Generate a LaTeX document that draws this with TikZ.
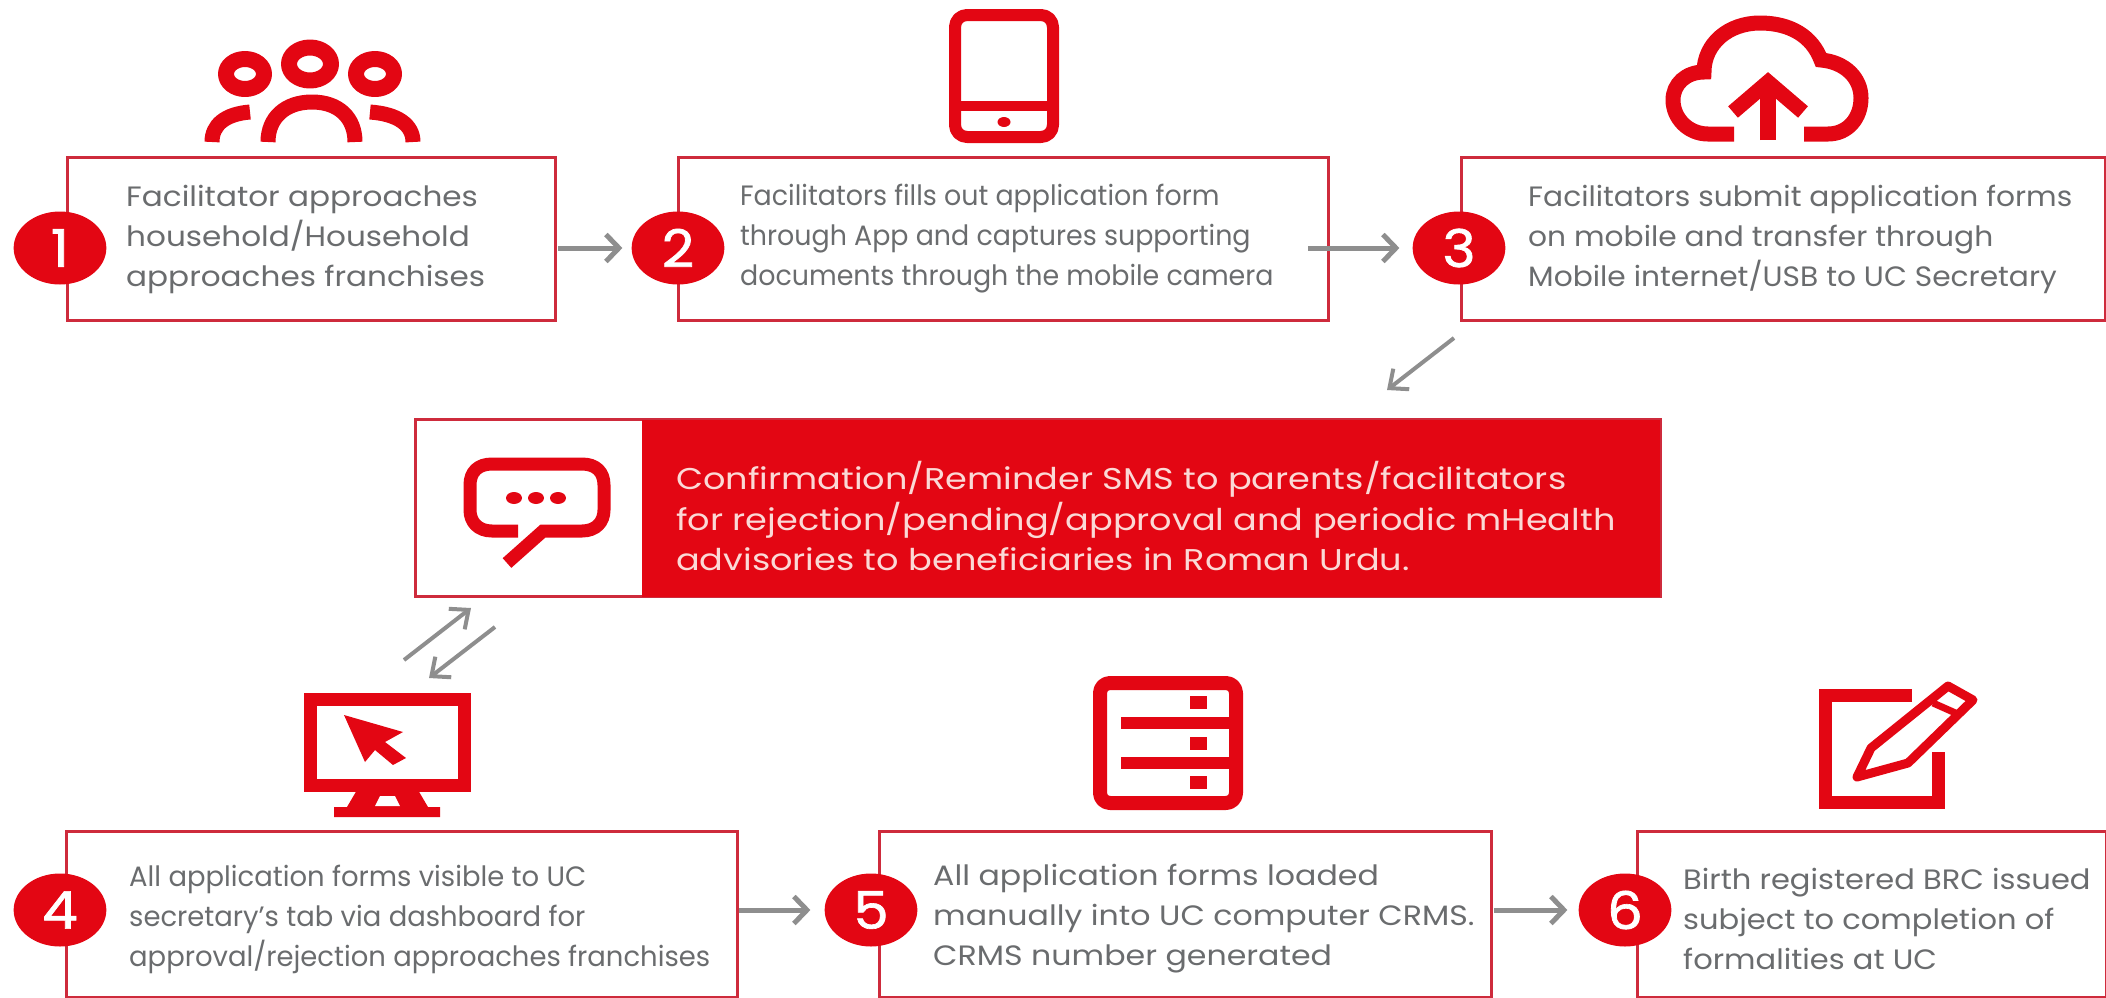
\documentclass[tikz,border=0pt]{standalone}
\usepackage{fontspec}
\setmainfont{Poppins}
\newfontfamily\numfont[FakeBold=1.2,FakeStretch=.85]{Poppins}
\usetikzlibrary{arrows.meta}
\definecolor{brandred}{HTML}{E30613}
\definecolor{boxred}{HTML}{CE2B3C}
\definecolor{flowgrey}{HTML}{8E8E8E}
\definecolor{bodygrey}{HTML}{6A6C6E}
\definecolor{smspink}{HTML}{FBD9D6}
\tikzset{
  stepbox/.style={rectangle,draw=boxred,line width=3pt,inner sep=0pt,outer sep=0pt},
  numdot/.style={circle,fill=brandred,text=white,minimum size=73pt,inner sep=0pt,xscale=1.27,
    font=\numfont\fontsize{52}{52}\selectfont},
  bodytext/.style={anchor=west,align=left,text=bodygrey,inner sep=0pt,
    font=\fontsize{28}{40}\selectfont},
  smstext/.style={anchor=west,align=left,text=smspink,inner sep=0pt,
    font=\fontsize{30}{40.5}\selectfont},
  flow/.style={draw=flowgrey,line width=5pt,-{Straight Barb[length=13pt,width=27pt,line width=5pt]}},
  slant/.style={draw=flowgrey,line width=4pt,-{Straight Barb[length=15pt,width=26pt,line width=4pt]}},
  icon/.style={draw=brandred,line width=12pt,line join=round},
  iconfill/.style={fill=brandred,draw=none}
}
\begin{document}
\begin{tikzpicture}[x=1pt,y=-1pt]
\useasboundingbox (0,0) rectangle (2106,997);
% top row
\node [stepbox,minimum width=488pt,minimum height=163pt] (boxa) at (311,238.5) {};
\node [stepbox,minimum width=650pt,minimum height=163pt] (boxb) at (1003,238.5) {};
\node [stepbox,minimum width=644pt,minimum height=163pt] (boxc) at (1783,238.5) {};
\node [numdot] (numa) at (60,248) {1};
\node [numdot] (numb) at (678,248) {2};
\node [numdot] (numc) at (1459,248) {3};
\node [bodytext,xscale=1.11] (texta) at (126,239) {Facilitator approaches\\household/Household\\approaches franchises};
\node [bodytext,xscale=.96] (textb) at (740,239) {Facilitators fills out application form\\through App and captures supporting\\documents through the mobile camera};
\node [bodytext,xscale=1.06] (textc) at (1528,239) {Facilitators submit application forms\\on mobile and transfer through\\Mobile internet/USB to UC Secretary};
% sms banner
\node [stepbox,minimum width=1245pt,minimum height=177pt] (smsbox) at (1037.5,508) {};
\node [rectangle,fill=brandred,minimum width=1018pt,minimum height=177pt,inner sep=0pt] (smsfill) at (1151,508) {};
\node [smstext,xscale=1.17] (smsline) at (676,516) {Confirmation/Reminder SMS to parents/facilitators\\for rejection/pending/approval and periodic mHealth\\advisories to beneficiaries in Roman Urdu.};
% bottom row
\node [stepbox,minimum width=671pt,minimum height=166pt] (boxd) at (401.5,914) {};
\node [stepbox,minimum width=612pt,minimum height=166pt] (boxe) at (1185,914) {};
\node [stepbox,minimum width=469pt,minimum height=166pt] (boxf) at (1871.5,914) {};
\node [numdot] (numd) at (60,910) {4};
\node [numdot] (nume) at (871,910) {5};
\node [numdot] (numf) at (1625,910) {6};
\node [bodytext,xscale=.98] (textd) at (129,919) {All application forms visible to UC\\secretary's tab via dashboard for\\approval/rejection approaches franchises};
\node [bodytext,xscale=1.13] (texte) at (933,919) {All application forms loaded\\manually into UC computer CRMS.\\CRMS number generated};
\node [bodytext,xscale=1.09] (textf) at (1683,919) {Birth registered BRC issued\\subject to completion of\\formalities at UC};
% arrows
\draw [flow,shorten >=9pt,shorten <=3pt] (boxa.east |- numb.west) -- (numb.west);
\draw [flow,shorten >=13pt,shorten <=-20pt] (boxb.east |- numc.west) -- (numc.west);
\draw [flow,shorten >=14pt,shorten <=2pt] (boxd.east |- nume.west) -- (nume.west);
\draw [flow,shorten >=11pt,shorten <=3pt] (boxe.east |- numf.west) -- (numf.west);
\coordinate (slanta) at (1454,338);
\coordinate (slantb) at (1387,390);
\coordinate (slantc) at (404,660);
\coordinate (slantd) at (471,608);
\coordinate (slante) at (495,627);
\coordinate (slantf) at (429,678);
\draw [slant] (slanta) -- (slantb);
\draw [slant] (slantc) -- (slantd);
\draw [slant] (slante) -- (slantf);
% people
\draw [icon,line width=16pt] (310,64) ellipse [x radius=21,y radius=16.5];
\draw [icon,line width=16pt] (245,74) ellipse [x radius=19,y radius=15];
\draw [icon,line width=16pt] (375,74) ellipse [x radius=19,y radius=15];
\draw [icon,line join=miter,line width=15pt] (268,142) .. controls (268,118) and (285,102) .. (312,102) .. controls (339,102) and (355,118) .. (355,142);
\draw [icon,line join=miter,line width=15pt] (212,142) .. controls (212,125) and (225,114) .. (250,112);
\draw [icon,line join=miter,line width=15pt] (413,142) .. controls (413,125) and (398,114) .. (370,112);
% phone
\draw [icon,rounded corners=12pt] (955,15) rectangle (1053,137);
\draw [icon,line width=10pt] (955,106) -- (1053,106);
\fill [iconfill] (1004,122) ellipse [x radius=6.5,y radius=5];
% cloud
\draw [icon,line width=15pt,line join=miter] (1734,134) -- (1708,134) .. controls (1688,134) and (1673,118) .. (1673,100) .. controls (1673,84) and (1686,72) .. (1704,72) .. controls (1704,44) and (1728,23) .. (1760,23) .. controls (1790,23) and (1812,36) .. (1821,60) .. controls (1845,62) and (1861,78) .. (1861,98) .. controls (1861,118) and (1848,134) .. (1828,134) -- (1804,134);
\draw [icon,line width=16pt,line join=miter] (1768,140) -- (1768,85);
\draw [icon,line width=15pt,line join=miter] (1733,112) -- (1768,82) -- (1803,112);
% sms icon
\draw [icon,line width=13pt,line join=miter] (518,531) -- (492,531) .. controls (478,531) and (470,522) .. (470,510) -- (470,485) .. controls (470,472) and (478,464) .. (492,464) -- (582,464) .. controls (596,464) and (604,472) .. (604,485) -- (604,510) .. controls (604,522) and (596,531) .. (582,531) -- (543,531) -- (507,563);
\foreach \dotx in {514,536,558}
  \fill [iconfill] (\dotx,498) ellipse [x radius=8,y radius=6];
% monitor
\draw [icon,line width=13pt,line join=miter] (310,699) rectangle (464,785);
\fill [iconfill] (357,790) -- (418,790) -- (428,807) -- (440,807) -- (440,817) -- (334,817) -- (334,807) -- (347,807) -- cycle;
\fill [white] (380,796) -- (395,796) -- (400,806) -- (375,806) -- cycle;
\fill [iconfill] (344,715) -- (403,732) -- (385,742) -- (406,758) -- (393,765) -- (375,750) -- (365,762) -- cycle;
% server
\draw [icon,line width=14pt,rounded corners=10pt] (1100,683) rectangle (1236,803);
\draw [icon,line join=miter] (1121,723) -- (1232,723);
\draw [icon,line join=miter] (1121,763) -- (1232,763);
\foreach \sqy in {696,737,776}
  \fill [iconfill] (1190,\sqy) rectangle (1207,\sqy+13);
% notepad and pencil
\draw [icon,line join=miter,line width=13pt] (1912,695) -- (1825,695) -- (1825,802) -- (1938,802) -- (1938,752);
\draw [icon,line width=9pt,line join=round] (1857,777) -- (1871,748) -- (1948,686) -- (1973,700) -- (1908,763) -- cycle;
\draw [icon,line width=7pt] (1933,703) -- (1960,715);
\end{tikzpicture}
\end{document}
